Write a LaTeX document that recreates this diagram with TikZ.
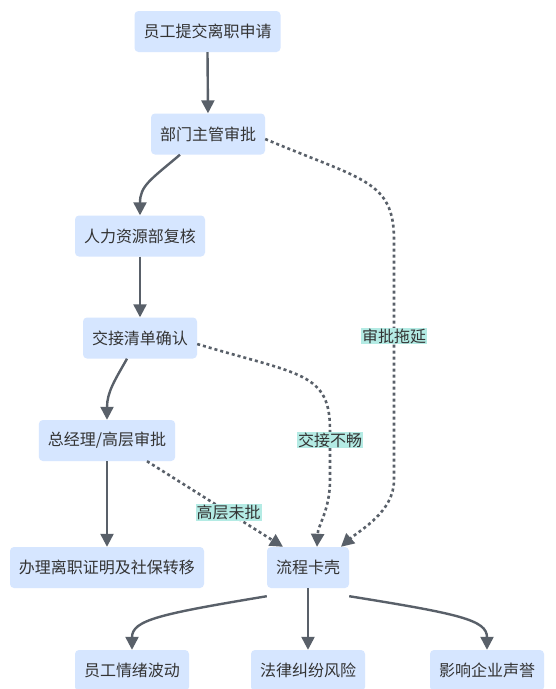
\documentclass[tikz,border=0pt]{standalone}
\usepackage{fontspec}
\newfontfamily\cjk{Noto Sans CJK SC}
\usetikzlibrary{arrows.meta}
\definecolor{nodefill}{RGB}{214,230,255}
\definecolor{txt}{RGB}{51,51,51}
\definecolor{edge}{RGB}{89,96,105}
\definecolor{lblbg}{RGB}{180,235,228}
\tikzset{
  box/.style={fill=nodefill, rounded corners=4pt, minimum height=41pt, inner xsep=9pt, inner ysep=0pt, text=txt, font=\cjk\fontsize{16}{19}\selectfont, anchor=center},
  solidedge/.style={draw=edge, line width=2.4pt, -{Triangle[length=13pt,width=13pt]}},
  dotedge/.style={draw=edge, line width=2.6pt, dash pattern=on 3pt off 3pt, -{Triangle[length=13pt,width=13pt]}},
  lbl/.style={fill=lblbg, inner sep=1pt, text=txt, font=\cjk\fontsize{16}{19}\selectfont}
}
\begin{document}
\begin{tikzpicture}[x=1pt,y=-1pt]
\useasboundingbox[fill=white] (0,0) rectangle (555,689);
\node[box] (A) at (207.5,31.5) {员工提交离职申请};
\node[box] (B) at (208,134) {部门主管审批};
\node[box] (C) at (140,236) {人力资源部复核};
\node[box] (D) at (140,338) {交接清单确认};
\node[box] (E) at (107,440.5) {总经理/高层审批};
\node[box] (F) at (107,567.5) {办理离职证明及社保转移};
\node[box] (G) at (308,567.5) {流程卡壳};
\node[box] (H1) at (132,670.5) {员工情绪波动};
\node[box] (H2) at (308,670.5) {法律纠纷风险};
\node[box] (H3) at (487,670.5) {影响企业声誉};

\draw[solidedge] (A.south) -- (B.north);
\draw[solidedge] ([xshift=-28pt]B.south) .. controls (150,180) and (140,186) .. (C.north);
\draw[solidedge] (C.south) -- (D.north);
\draw[solidedge] ([xshift=-13pt]D.south) .. controls (115,380) and (107,392) .. (E.north);
\draw[solidedge] (E.south) -- (F.north);

\draw[dotedge] ([xshift=40pt]E.south) -- node[lbl, pos=0.6] (L1) {高层未批} ([xshift=-25pt]G.north);
\draw[dotedge] ([yshift=-6pt]D.east) .. controls (300,375) and (330,372) .. (330,430)
   -- node[lbl, pos=0.2] (L2) {交接不畅} (330,480) .. controls (330,510) and (318,525) .. ([xshift=9pt]G.north);
\draw[dotedge] ([yshift=-5pt]B.east) .. controls (362,180) and (394,180) .. (394,240)
   -- node[lbl, pos=0.4] (L3) {审批拖延} (394,480) .. controls (394,512) and (360,530) .. ([xshift=33pt]G.north);

\draw[solidedge] ([yshift=-8pt]G.south west) .. controls (160,614) and (132,620) .. (H1.north);
\draw[solidedge] (G.south) -- (H2.north);
\draw[solidedge] ([yshift=-8pt]G.south east) .. controls (460,614) and (487,620) .. (H3.north);
\end{tikzpicture}
\end{document}
